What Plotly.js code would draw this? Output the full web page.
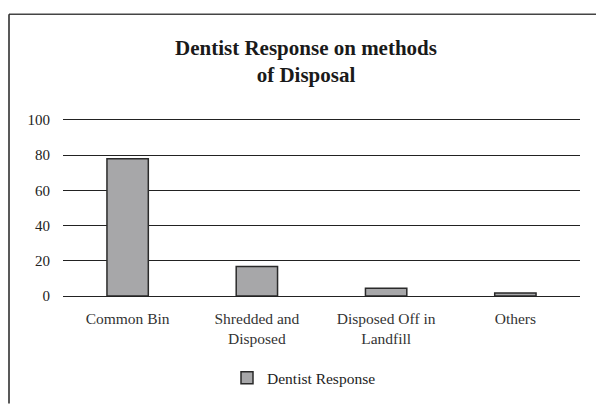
<!DOCTYPE html>
<html>
<head>
<meta charset="utf-8">
<script src="https://cdn.plot.ly/plotly-3.0.1.min.js"></script>
<style>
html,body{margin:0;padding:0;background:#fff;}
#chart{width:596px;height:407px;}
</style>
</head>
<body>
<div id="chart"></div>
<script>
var categories = ["Common Bin", "Shredded and<br>Disposed", "Disposed Off in<br>Landfill", "Others"];
var seriesName = "Dentist Response";
var values = [78, 16.7, 4.4, 1.7];
var yTicks = [0, 20, 40, 60, 80, 100];

var W = 596, H = 407;
var L = 63, R = 580, T = 118, B = 300;
var yMax = 100 * (B - T) / 180;
function px(x){ return (x - L) / (R - L); }
function py(y){ return (B - y) / (B - T); }

var trace = {
  type: "bar",
  x: categories,
  y: values,
  name: seriesName,
  width: 0.32,
  marker: {color: "#a7a7a9", line: {color: "#2a2a2a", width: 1.5}},
  showlegend: true
};

var layout = {
  width: W, height: H,
  margin: {l: L, r: W - R, t: T, b: H - B, pad: 0},
  paper_bgcolor: "#fff",
  plot_bgcolor: "#fff",
  font: {family: "Liberation Serif, Times New Roman, serif", color: "#222", size: 15},
  title: {
    text: "<b>Dentist Response on methods<br>of Disposal</b>",
    font: {family: "Liberation Serif, serif", size: 21, color: "#1a1a1a"},
    x: 306 / W, xanchor: "center",
    y: 1 - 55 / H, yanchor: "top", yref: "container"
  },
  xaxis: {
    type: "category",
    showgrid: false, zeroline: false, showline: false,
    ticks: "", tickfont: {size: 15.5, color: "#333"},
    ticklabelstandoff: 11,
    fixedrange: true
  },
  yaxis: {
    range: [0, yMax],
    tickvals: yTicks,
    ticktext: yTicks.map(String),
    showgrid: true, gridcolor: "#222", gridwidth: 1,
    zeroline: true, zerolinecolor: "#222", zerolinewidth: 1,
    showline: false, ticks: "", ticklabelstandoff: 12,
    tickfont: {size: 15, color: "#222"}
  },
  showlegend: true,
  legend: {
    orientation: "h",
    x: px(304), xanchor: "center",
    y: py(384), yanchor: "middle",
    font: {size: 15.5, color: "#222"},
    bgcolor: "rgba(0,0,0,0)"
  },
  shapes: [
    {type: "line", xref: "paper", yref: "paper", x0: px(9), x1: px(600), y0: py(12), y1: py(12), line: {color: "#444", width: 1.5}},
    {type: "line", xref: "paper", yref: "paper", x0: px(9), x1: px(9), y0: py(12), y1: py(410), line: {color: "#222", width: 1.5}}
  ],
  bargap: 0.68
};

Plotly.newPlot("chart", [trace], layout, {displayModeBar: false, staticPlot: true});
</script>
</body>
</html>
